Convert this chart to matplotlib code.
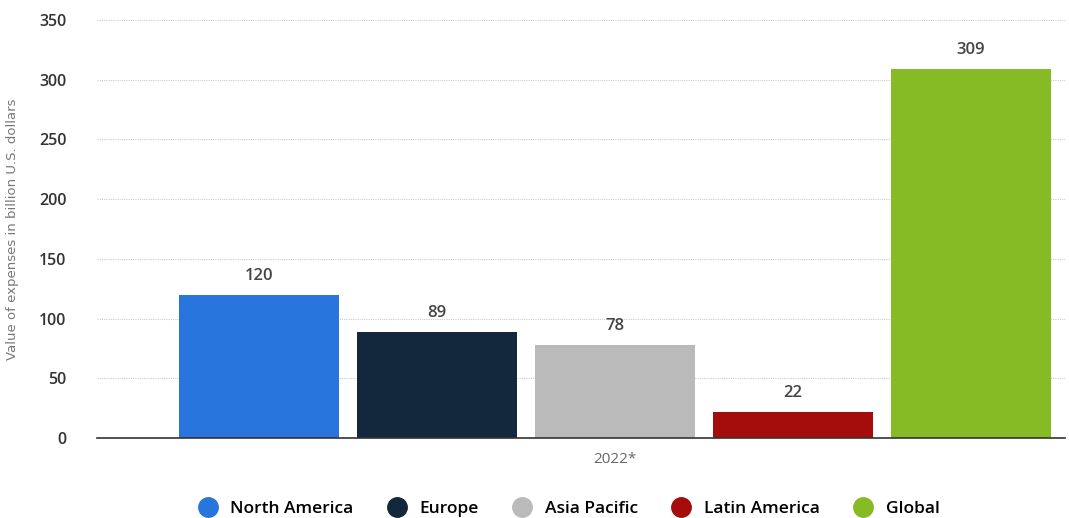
import matplotlib
matplotlib.use("Agg")
import matplotlib.pyplot as plt
from matplotlib.lines import Line2D

regions = ["North America", "Europe", "Asia Pacific", "Latin America", "Global"]
values = [120, 89, 78, 22, 309]
colors = ["#2876dd", "#13273d", "#bababa", "#a50d0d", "#86bb26"]
yticks = [0, 50, 100, 150, 200, 250, 300, 350]
year_label = "2022*"

plt.rcParams["font.family"] = ["Open Sans", "DejaVu Sans"]

fig = plt.figure(figsize=(10.69, 5.18), dpi=100)
W, H = 1069, 518
# axes box in pixels: left 97, right 1065, top 20 (y=350), bottom 438 (y=0)
ax = fig.add_axes([97 / W, (H - 438) / H, (1065 - 97) / W, (438 - 20) / H])

x = list(range(len(values)))
ax.bar(x, values, width=0.9, color=colors, zorder=3)
for xi, v in zip(x, values):
    ax.text(xi, v + 9, str(v), ha="center", va="bottom", fontsize=12,
            fontweight="semibold", color="#444444")

ax.set_xlim(-0.91, 4.53)
ax.set_ylim(0, 350)
ax.set_yticks(yticks)
ax.set_yticklabels([str(t) for t in yticks], fontsize=11.5, fontweight="semibold", color="#333333")
ax.tick_params(axis="y", length=0, pad=22)
ax.set_xticks([2])
ax.set_xticklabels([year_label], fontsize=11, color="#666666")
ax.tick_params(axis="x", length=0, pad=10)

ax.grid(axis="y", color="#cccccc", linestyle=(0, (1, 1)), linewidth=0.8, zorder=0)
for s in ["top", "right", "left"]:
    ax.spines[s].set_visible(False)
ax.spines["bottom"].set_color("#333333")
ax.spines["bottom"].set_linewidth(1.2)
ax.spines["bottom"].set_zorder(4)

ax.set_ylabel("Value of expenses in billion U.S. dollars", fontsize=9.5,
              color="#777777", family=["Liberation Sans Narrow", "DejaVu Sans"])
ax.yaxis.set_label_coords(-78 / (1065 - 97), 0.5)

handles = [Line2D([0], [0], marker="o", linestyle="", markersize=14,
                  markerfacecolor=c, markeredgecolor=c) for c in colors]
fig.legend(handles, regions, loc="center", bbox_to_anchor=(565 / W, 9 / H),
           ncol=5, frameon=False, handletextpad=0.3, columnspacing=1.5,
           prop={"weight": "semibold", "size": 12.5})

fig.savefig("out.png", dpi=100)
